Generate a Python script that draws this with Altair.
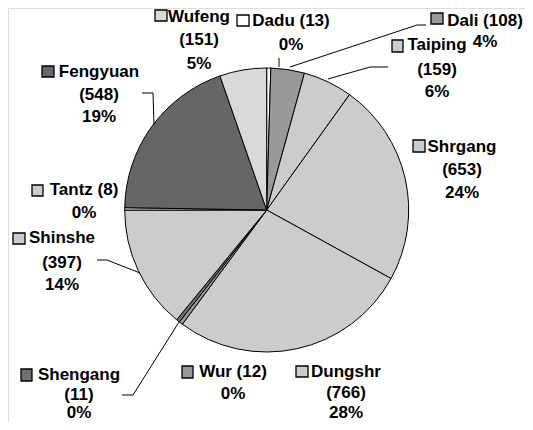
import altair as alt
import pandas as pd

# ---- data ----
names = ["Dadu", "Dali", "Taiping", "Shrgang", "Dungshr", "Wur", "Shengang",
         "Shinshe", "Tantz", "Fengyuan", "Wufeng"]
values = [13, 108, 159, 653, 766, 12, 11, 397, 8, 548, 151]
pct_labels = ["0%", "4%", "6%", "24%", "28%", "0%", "0%", "14%", "0%", "19%", "5%"]
fills = ["#ffffff", "#999999", "#cccccc", "#cccccc", "#cccccc", "#999999", "#707070",
         "#cccccc", "#cccccc", "#666666", "#d9d9d9"]
# labels that keep the count on the first line
inline_count = {"Dadu", "Dali", "Wur", "Tantz"}

# ---- layout (page pixel coordinates) ----
M = 8  # page margin
center = (266.7, 210.0)
radius = 142
label_cx = {"Wufeng": 199, "Dadu": 291, "Dali": 485, "Taiping": 437, "Shrgang": 462,
            "Fengyuan": 99, "Tantz": 84, "Shinshe": 62, "Shengang": 79, "Wur": 233,
            "Dungshr": 346}
label_ys = {"Wufeng": [17, 40, 64], "Dadu": [21, 45], "Dali": [21, 42],
            "Taiping": [45, 70, 92], "Shrgang": [147, 170, 193],
            "Fengyuan": [72, 95, 117], "Tantz": [190, 213], "Shinshe": [238, 263, 285],
            "Shengang": [375, 395, 413], "Wur": [372, 394], "Dungshr": [372, 393, 413]}
swatch = {"Wufeng": (155, 167, 10, 21), "Dadu": (237, 249, 15, 26),
          "Dali": (431, 443, 13, 24), "Taiping": (392, 403, 40, 52),
          "Shrgang": (413, 425, 140, 152), "Fengyuan": (42, 54, 66, 77),
          "Tantz": (32, 43, 185, 196), "Shinshe": (13, 25, 233, 244),
          "Shengang": (21, 32, 369, 381), "Wur": (182, 193, 366, 378),
          "Dungshr": (296, 308, 366, 377)}
leaders = {"Dadu": [(279, 58), (279, 67)],
           "Dali": [(426, 25), (417, 25), (290, 67)],
           "Taiping": [(388, 67), (370, 67), (328, 79)],
           "Fengyuan": [(142, 93), (153, 93), (154, 125)],
           "Shinshe": [(97, 260), (107, 260), (140, 273)],
           "Shengang": [(122, 395), (133, 395), (179, 322)]}

pie_df = pd.DataFrame({"name": names, "value": values, "fill": fills,
                       "idx": list(range(len(names)))})

text_rows = []
sw_rows = []
for n, v, p, f in zip(names, values, pct_labels, fills):
    if n in inline_count:
        lines = [f"{n} ({v})", p]
    else:
        lines = [n, f"({v})", p]
    for t, y in zip(lines, label_ys[n]):
        text_rows.append({"t": t, "x": label_cx[n] - M, "y": y - M})
    x0, x1, y0, y1 = swatch[n]
    sw_rows.append({"x": x0 - M, "x2": x1 - M, "y": y0 - M, "y2": y1 - M, "fill": f})
text_df = pd.DataFrame(text_rows)
sw_df = pd.DataFrame(sw_rows)

lead_rows = []
for n, pts in leaders.items():
    for i, (x, y) in enumerate(pts):
        lead_rows.append({"name": n, "i": i, "x": x - M, "y": y - M})
lead_df = pd.DataFrame(lead_rows)

pie = alt.Chart(pie_df).mark_arc(stroke="black", strokeWidth=1, radius=radius).encode(
    theta=alt.Theta("value:Q", stack=True),
    order=alt.Order("idx:Q"),
    fill=alt.Fill("fill:N", scale=None),
    x=alt.value(center[0] - M),
    y=alt.value(center[1] - M),
)

leader = alt.Chart(lead_df).mark_line(color="black", strokeWidth=1).encode(
    x=alt.X("x:Q", scale=None),
    y=alt.Y("y:Q", scale=None),
    detail="name:N",
    order="i:Q",
)

labels = alt.Chart(text_df).mark_text(
    font="Liberation Sans", fontWeight="bold", fontSize=17, color="black",
    align="center", baseline="middle"
).encode(
    x=alt.X("x:Q", scale=None),
    y=alt.Y("y:Q", scale=None),
    text="t:N",
)

swatches = alt.Chart(sw_df).mark_rect(stroke="black", strokeWidth=1.3).encode(
    x=alt.X("x:Q", scale=None),
    x2="x2:Q",
    y=alt.Y("y:Q", scale=None),
    y2="y2:Q",
    fill=alt.Fill("fill:N", scale=None),
)

chart = alt.layer(pie, leader, swatches, labels).properties(
    width=517, height=414, autosize=alt.AutoSizeParams(type="none"), padding=0
).configure_view(stroke=None).configure(background="white")

chart.save("out.html", embed_options={"renderer": "svg", "actions": False})
